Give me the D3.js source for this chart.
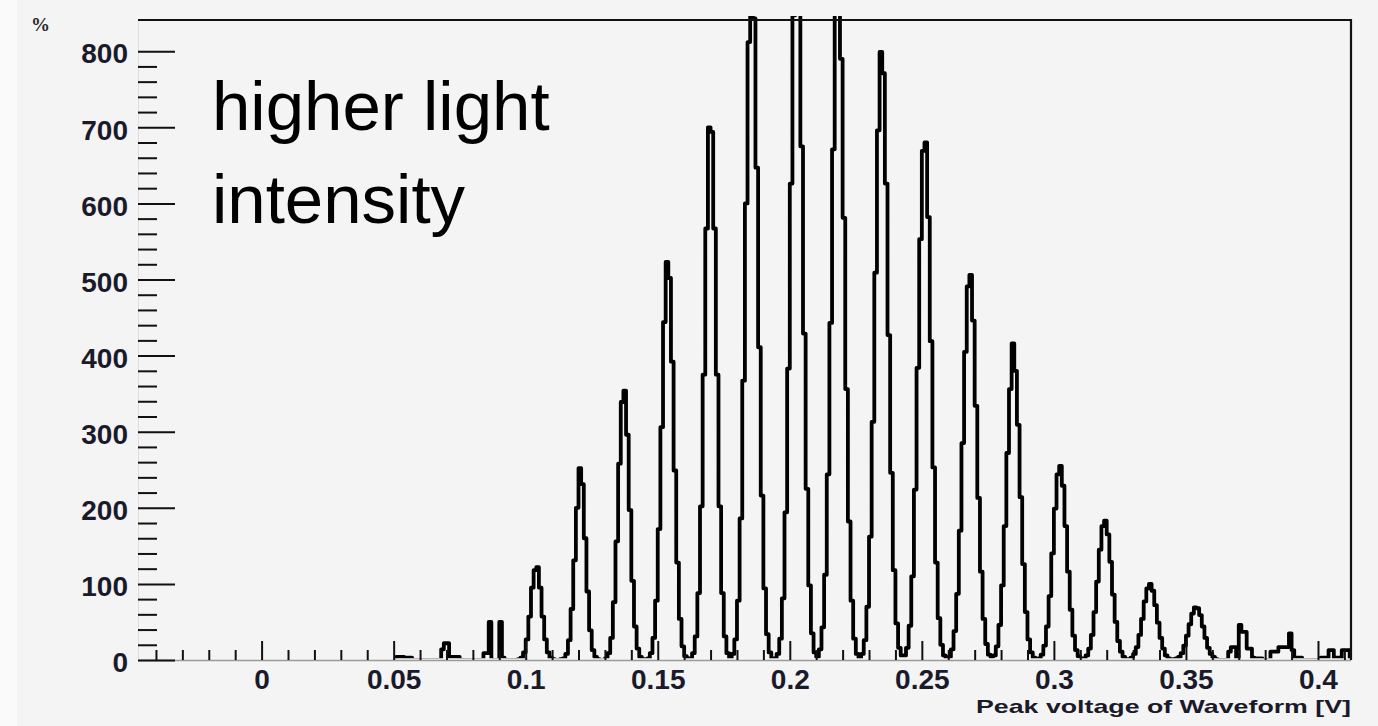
<!DOCTYPE html>
<html><head><meta charset="utf-8">
<script src="https://cdn.jsdelivr.net/npm/d3@7"></script>
<style>html,body{margin:0;padding:0;background:#f4f4f4;} svg{display:block;}</style>
</head><body>
<svg id="chart" width="1378" height="726"></svg>
<script>
// ---------------- data ----------------
const xTickValues = [0, 0.05, 0.1, 0.15, 0.2, 0.25, 0.3, 0.35, 0.4];
const xTickLabels = ["0", "0.05", "0.1", "0.15", "0.2", "0.25", "0.3", "0.35", "0.4"];
const yTickValues = [0, 100, 200, 300, 400, 500, 600, 700, 800];
const yTickLabels = ["0", "100", "200", "300", "400", "500", "600", "700", "800"];
const xTitle = "Peak voltage of Waveform [V]";
const noteLines = ["higher light", "intensity"];
const cornerMark = "%";
// histogram: bins of 0.001 V starting at 0.050 V (all bins outside are empty)
const binStart = 0.050;
const binWidth = 0.001;
const counts = [
  0,4,4,4,3,3,3,0,0,0,          // 0.050
  0,0,0,0,0,0,0,0,14,22,        // 0.060
  22,4,4,4,4,0,0,0,0,0,         // 0.070
  0,0,0,0,9,9,50,0,0,0,         // 0.080
  50,3,0,0,0,0,0,1,3,10,        // 0.090
  27,57,95,118,122,95,57,27,10,3,       // 0.100
  1,0,0,1,2,8,26,67,131,200,            // 0.110
  252,231,160,90,39,13,4,1,0,0,         // 0.120
  2,9,29,76,156,258,339,354,296,197,    // 0.130
  104,44,15,4,1,0,2,9,29,78,            // 0.140
  172,306,444,523,502,392,249,128,54,18,// 0.150
  5,1,2,9,31,88,202,375,567,700,        // 0.160
  694,567,375,202,88,31,9,3,8,27,       // 0.170
  78,186,367,600,812,909,843,647,411,216, // 0.180
  94,34,10,2,2,8,28,81,194,383,         // 0.190
  626,847,949,880,675,429,225,98,35,10, // 0.200
  4,14,43,112,244,443,671,850,896,790,  // 0.210
  581,356,182,78,28,8,3,8,26,70,        // 0.220
  162,313,509,696,799,771,626,427,246,118, // 0.230
  48,16,6,6,16,45,110,224,384,553,      // 0.240
  669,680,582,419,253,128,55,20,6,2,    // 0.250
  4,14,38,87,170,285,405,491,506,446,   // 0.260
  334,213,116,54,21,7,4,6,18,46,        // 0.270
  98,176,272,356,416,380,309,214,126,63,// 0.280
  27,10,3,1,2,7,19,44,84,140,           // 0.290
  199,244,255,229,176,116,66,32,13,5,   // 0.300
  1,2,6,15,33,63,103,145,176,183,       // 0.310
  165,129,86,50,25,11,4,1,1,3,          // 0.320
  8,17,33,54,77,94,100,91,72,49,        // 0.330
  29,15,6,2,0,1,2,4,9,19,               // 0.340
  32,47,61,69,68,59,44,29,16,8,         // 0.350
  4,1,0,0,0,0,11,17,17,3,               // 0.360
  46,37,37,15,15,3,2,2,2,0,             // 0.370
  0,0,11,11,11,17,17,17,17,35,          // 0.380
  13,3,3,3,0,0,0,0,0,0,                 // 0.390
  0,3,3,3,13,13,3,3,3,13,               // 0.400
  13,13                                 // 0.410
];

// ---------------- layout ----------------
const W = 1378, H = 726;
const frame = {left: 138, right: 1351, top: 20, bottom: 660};
const svg = d3.select("#chart");

svg.append("rect").attr("x",0).attr("y",0).attr("width",W).attr("height",H).attr("fill","#f4f4f4");
svg.append("rect").attr("x",0).attr("y",0).attr("width",17).attr("height",H).attr("fill","#fafafa");

const x = d3.scaleLinear().domain([-0.0468, 0.4125]).range([frame.left, frame.right]);
const y = d3.scaleLinear().domain([0, 841]).range([frame.bottom, frame.top]);

// histogram
const edges = counts.map((c, i) => binStart + i * binWidth);
const pts = [[binStart, 0]];
counts.forEach((c, i) => pts.push([edges[i], c]));
pts.push([binStart + counts.length * binWidth, counts[counts.length - 1]]);
pts.push([binStart + counts.length * binWidth, 0]);

svg.append("defs").append("clipPath").attr("id","plotclip")
  .append("rect").attr("x", frame.left).attr("y", frame.top - 4)
  .attr("width", frame.right - frame.left).attr("height", y(0) - 1.8 - (frame.top - 4));

const line = d3.line().x(d => x(d[0])).y(d => y(d[1])).curve(d3.curveStepAfter);
svg.append("path").datum(pts).attr("d", line)
  .attr("fill","none").attr("stroke","#000").attr("stroke-width",3.8)
  .attr("stroke-linejoin","round").attr("clip-path","url(#plotclip)");

// axis base lines
svg.append("line").attr("x1", frame.left).attr("x2", frame.right).attr("y1", y(0)+0.5).attr("y2", y(0)+0.5)
  .attr("stroke","#9a9a9a").attr("stroke-width",1.5);
svg.append("line").attr("x1", frame.left+0.5).attr("x2", frame.left+0.5).attr("y1", frame.top).attr("y2", frame.bottom)
  .attr("stroke","#dedede").attr("stroke-width",1);
// frame top + right
svg.append("path").attr("d", `M${frame.left},${frame.top} H${frame.right} V${frame.bottom}`)
  .attr("fill","none").attr("stroke","#111").attr("stroke-width",2.2);

// x axis
const xMinor = d3.range(-4, 42).map(i => i / 100).filter(v => !xTickValues.some(t => Math.abs(t - v) < 1e-9));
const gxMinor = svg.append("g").attr("transform", `translate(0,${frame.bottom})`)
  .call(d3.axisBottom(x).tickValues(xMinor).tickSize(-10).tickFormat(""));
const gx = svg.append("g").attr("transform", `translate(0,${frame.bottom})`)
  .call(d3.axisBottom(x).tickValues(xTickValues).tickSize(-19).tickPadding(9)
    .tickFormat((d, i) => xTickLabels[i]));

// y axis
const yMinor = d3.range(0, 801, 20).filter(v => v % 100 !== 0);
const gyMinor = svg.append("g").attr("transform", `translate(${frame.left},0)`)
  .call(d3.axisLeft(y).tickValues(yMinor).tickSize(-19).tickFormat(""));
const gy = svg.append("g").attr("transform", `translate(${frame.left},0)`)
  .call(d3.axisLeft(y).tickValues(yTickValues).tickSize(-37).tickPadding(10)
    .tickFormat((d, i) => yTickLabels[i]));

[gxMinor, gx, gyMinor, gy].forEach(g => {
  g.select(".domain").remove();
  g.selectAll(".tick line").attr("stroke","#111").attr("stroke-width",2);
  g.selectAll("text").attr("fill","#1a1a2a")
    .style("font-family","'Liberation Sans', Arial, sans-serif")
    .style("font-weight","bold").style("font-size","28px");
});
gy.selectAll("text").attr("dy","0.42em");

// axis title
svg.append("text").attr("x", 1351).attr("y", 713).attr("text-anchor","end")
  .attr("textLength", 375).attr("lengthAdjust","spacingAndGlyphs")
  .style("font-family","'Liberation Sans', Arial, sans-serif").style("font-weight","bold")
  .style("font-size","18.5px").attr("fill","#1a1a2a").text(xTitle);

// corner mark
svg.append("text").attr("x", 31).attr("y", 31)
  .style("font-family","'Liberation Serif', serif").style("font-weight","bold")
  .style("font-size","19px").attr("fill","#2a2a2a").text(cornerMark);

// annotation
svg.selectAll("text.note").data(noteLines).enter().append("text").attr("class","note")
  .attr("x", 212).attr("y", (d, i) => 130 + i * 93)
  .style("font-family","'Liberation Sans', Arial, sans-serif").style("font-size","69px")
  .attr("fill","#000").text(d => d);
</script>
</body></html>
